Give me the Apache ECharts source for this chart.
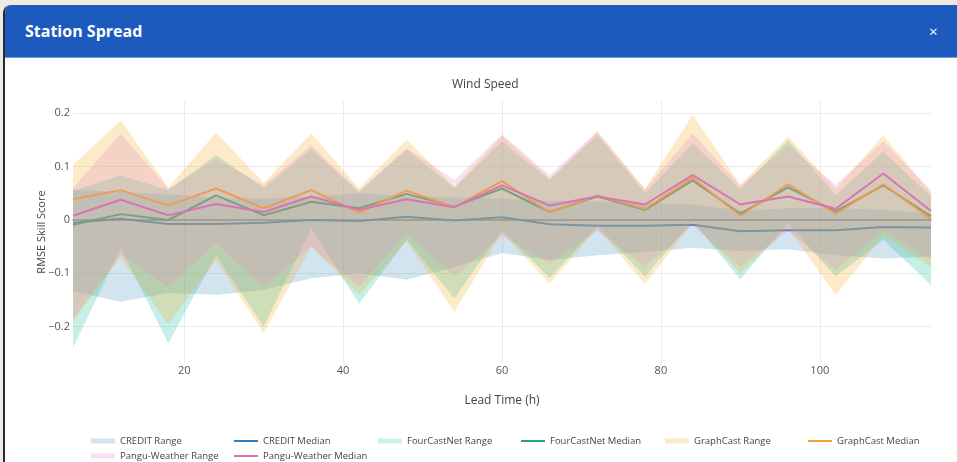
<!DOCTYPE html>
<html><head><meta charset="utf-8">
<script src="https://cdn.jsdelivr.net/npm/echarts@6/dist/echarts.min.js"></script>
<style>
html,body{margin:0;padding:0;width:957px;height:462px;overflow:hidden;background:#efebe3;font-family:'Open Sans',sans-serif;}
#modal{position:absolute;left:3px;top:5px;width:980px;height:480px;background:#fff;border-left:2px solid #262a33;border-top-left-radius:8px;overflow:hidden;}
#hdr{position:absolute;left:0;top:0;right:0;height:52px;background:#1d5abe;border-bottom:1px solid #6a97de;}
#ttl{position:absolute;left:20px;top:0;line-height:52px;color:#fff;font-weight:700;font-size:16px;}
#cls{position:absolute;left:924px;top:0;line-height:52px;color:#fff;font-size:15px;}
#chart{position:absolute;left:0;top:0;width:957px;height:462px;z-index:2;}
</style></head>
<body>
<div id="modal"><div id="hdr"><div id="ttl">Station Spread</div><div id="cls">×</div></div></div>
<div id="chart"></div>
<script>
var hours = [6,12,18,24,30,36,42,48,54,60,66,72,78,84,90,96,102,108,114];
var xTicks = [20,40,60,80,100];
var yTicks = [-0.2,-0.1,0,0.1,0.2];

var creditLower = [-0.134,-0.153,-0.137,-0.14,-0.131,-0.109,-0.1,-0.112,-0.088,-0.062,-0.075,-0.066,-0.06,-0.052,-0.058,-0.055,-0.066,-0.072,-0.069];
var creditUpper = [0.056,0.053,0.048,0.042,0.04,0.044,0.05,0.044,0.042,0.04,0.036,0.034,0.032,0.029,0.018,0.022,0.022,0.019,0.012];
var creditMedian = [-0.005,0.0025,-0.0075,-0.0075,-0.005,0.0,-0.002,0.006,-0.001,0.005,-0.008,-0.011,-0.011,-0.009,-0.021,-0.019,-0.019,-0.013,-0.014];

var fcnLower = [-0.24,-0.053,-0.231,-0.066,-0.2,-0.015,-0.157,-0.037,-0.147,-0.019,-0.109,-0.012,-0.106,-0.002,-0.111,-0.006,-0.106,-0.037,-0.122];
var fcnUpper = [0.055,0.084,0.056,0.122,0.06,0.133,0.052,0.132,0.06,0.147,0.075,0.159,0.05,0.144,0.058,0.15,0.047,0.128,0.044];
var fcnMedian = [-0.009,0.011,0.0,0.046,0.009,0.034,0.022,0.049,0.025,0.059,0.015,0.044,0.019,0.074,0.012,0.061,0.016,0.065,0.007];

var gcLower = [-0.19,-0.07,-0.195,-0.075,-0.212,-0.05,-0.14,-0.04,-0.172,-0.025,-0.119,-0.016,-0.12,-0.006,-0.1,-0.015,-0.14,-0.03,-0.088];
var gcUpper = [0.103,0.187,0.061,0.164,0.07,0.162,0.06,0.151,0.062,0.158,0.078,0.165,0.058,0.197,0.066,0.157,0.058,0.159,0.05];
var gcMedian = [0.039,0.056,0.027,0.059,0.022,0.056,0.014,0.055,0.024,0.073,0.014,0.046,0.021,0.079,0.008,0.067,0.012,0.067,0.002];

var panguLower = [-0.185,-0.065,-0.125,-0.044,-0.125,-0.05,-0.125,-0.025,-0.106,-0.03,-0.081,-0.02,-0.087,-0.01,-0.087,-0.02,-0.094,-0.019,-0.075];
var panguUpper = [0.06,0.162,0.058,0.115,0.065,0.14,0.055,0.135,0.075,0.16,0.084,0.167,0.057,0.162,0.064,0.14,0.066,0.147,0.056];
var panguMedian = [0.008,0.038,0.009,0.03,0.015,0.044,0.019,0.039,0.024,0.065,0.027,0.044,0.029,0.084,0.029,0.044,0.021,0.087,0.017];

var models = [
  {name:'CREDIT', lo:creditLower, hi:creditUpper, med:creditMedian, line:'#2f80c2', fill:'rgba(31,119,180,0.2)', swatch:'rgba(31,119,180,0.2)'},
  {name:'FourCastNet', lo:fcnLower, hi:fcnUpper, med:fcnMedian, line:'#22a77c', fill:'rgba(23,190,160,0.25)', swatch:'rgba(23,190,140,0.22)'},
  {name:'GraphCast', lo:gcLower, hi:gcUpper, med:gcMedian, line:'#eea236', fill:'rgba(245,170,40,0.25)', swatch:'rgba(245,170,40,0.25)'},
  {name:'Pangu-Weather', lo:panguLower, hi:panguUpper, med:panguMedian, line:'#d874b4', fill:'rgba(230,140,190,0.25)', swatch:'rgba(230,140,190,0.25)'}
];

function pairs(arr){ return hours.map(function(h,i){ return [h, arr[i]]; }); }

function bandRenderer(m){
  return function(params, api){
    if (params.dataIndex !== 0) return;
    var pts = [];
    for (var i = 0; i < hours.length; i++) pts.push(api.coord([hours[i], m.hi[i]]));
    for (var j = hours.length - 1; j >= 0; j--) pts.push(api.coord([hours[j], m.lo[j]]));
    return {type:'polygon', shape:{points:pts}, style:{fill:m.fill, stroke:'none'}, silent:true};
  };
}

var series = [];
var legends = [];
var legendPos = [[91,436],[234,436],[378,436],[521,436],[665,436],[808,436],[91,451],[234,451]];
var legendText = {color:'#444', fontSize:9.5, fontFamily:'Open Sans'};
models.forEach(function(m, k){
  series.push({name:m.name+' Range', type:'custom', silent:true, z:2+2*k,
    data:hours.map(function(h,i){ return [h, m.lo[i], m.hi[i]]; }),
    encode:{x:0, y:[1,2]}, itemStyle:{color:m.fill}, renderItem:bandRenderer(m)});
  series.push({name:m.name+' Median', type:'line', data:pairs(m.med), symbol:'none', silent:true, z:3+2*k,
    lineStyle:{color:m.line, width:2}, itemStyle:{color:m.line}});
  var p1 = legendPos[2*k], p2 = legendPos[2*k+1];
  legends.push({data:[{name:m.name+' Range', icon:'rect'}], left:p1[0], top:p1[1], padding:0, itemWidth:24, itemHeight:5, itemGap:0,
    itemStyle:{color:m.swatch, borderWidth:0}, textStyle:legendText, selectedMode:false});
  legends.push({data:[{name:m.name+' Median', icon:'rect'}], left:p2[0], top:p2[1], padding:0, itemWidth:24, itemHeight:2, itemGap:0,
    itemStyle:{color:m.line, borderWidth:0}, textStyle:legendText, selectedMode:false});
});

var chart = echarts.init(document.getElementById('chart'), null, {renderer:'canvas'});
chart.setOption({
  animation:false,
  backgroundColor:'transparent',
  title:{text:'Wind Speed', left:452, top:79, padding:0, textStyle:{fontSize:12, fontWeight:'normal', color:'#444', fontFamily:'Open Sans'}},
  legend:legends,
  grid:{left:73, right:26, top:101, bottom:99, containLabel:false},
  xAxis:[{
    type:'value', min:6, max:114,
    name:'Lead Time (h)', nameLocation:'middle', nameGap:32,
    nameTextStyle:{fontSize:12, color:'#444', fontFamily:'Open Sans'},
    axisLine:{show:false, onZero:false}, axisTick:{show:false, customValues:xTicks},
    axisLabel:{customValues:xTicks, margin:2, fontSize:11, color:'#555', fontFamily:'Open Sans'},
    splitLine:{show:true, lineStyle:{color:'#ebebeb', width:1}}
  },{
    type:'value', min:6, max:114, position:'bottom',
    axisLine:{show:true, onZero:true, lineStyle:{color:'#8a8a8a', width:1.5}},
    axisTick:{show:false}, axisLabel:{show:false}, splitLine:{show:false}
  }],
  yAxis:{
    type:'value', min:-0.268, max:0.223,
    name:'RMSE Skill Score', nameLocation:'middle', nameGap:26, nameRotate:90, nameMoveOverlap:false,
    nameTextStyle:{fontSize:11, color:'#444', fontFamily:'Open Sans'},
    axisLine:{show:false, onZero:false}, axisTick:{show:false, customValues:yTicks},
    axisLabel:{customValues:yTicks, margin:3, fontSize:11, color:'#555', fontFamily:'Open Sans',
      formatter:function(v){ if (Math.abs(v)<1e-9) return '0'; return v<0 ? '\u2212'+Math.abs(v) : String(v); }},
    splitLine:{show:true, lineStyle:{color:'#ebebeb', width:1}}
  },
  series:series
});
</script>
</body></html>
